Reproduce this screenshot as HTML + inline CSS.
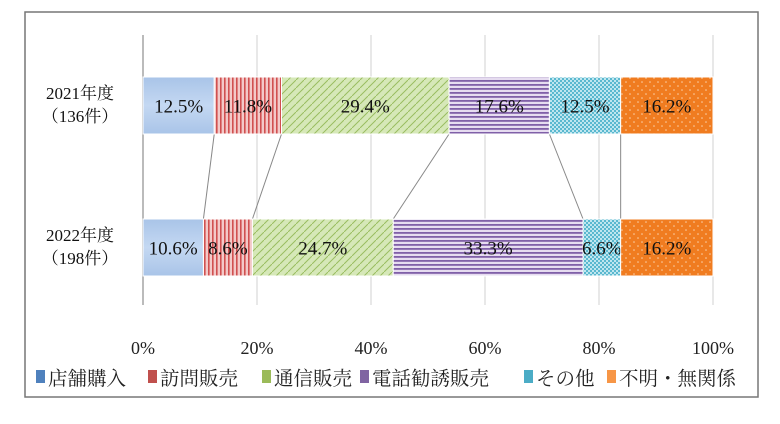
<!DOCTYPE html>
<html><head><meta charset="utf-8"><style>
body{margin:0;background:#fff;width:780px;height:419px;overflow:hidden}
svg text{font-family:"Liberation Serif","Noto Serif CJK SC",serif}
</style></head><body>
<svg id="c" width="780" height="419">
<defs>
<linearGradient id="gb" x1="0" y1="0" x2="0" y2="1"><stop offset="0" stop-color="#a9c4e8"/><stop offset="0.5" stop-color="#c4d8f2"/><stop offset="1" stop-color="#a9c4e8"/></linearGradient>
<pattern id="pr" width="4" height="4" patternUnits="userSpaceOnUse"><rect width="4" height="4" fill="#f3c9c8"/><rect width="1.6" height="4" fill="#d05050"/></pattern>
<pattern id="pg" width="8" height="8" patternUnits="userSpaceOnUse"><rect width="8" height="8" fill="#d6e8b8"/><path d="M0 8L8 0" stroke="#9abd60" stroke-width="1"/></pattern>
<pattern id="pp" width="4" height="4" patternUnits="userSpaceOnUse"><rect width="4" height="4" fill="#e6dcf0"/><rect width="4" height="1.8" fill="#8060a8"/></pattern>
<pattern id="pc" width="4" height="4" patternUnits="userSpaceOnUse"><rect width="4" height="4" fill="#bfe6ef"/><rect width="2" height="2" fill="#5ab8cf"/><rect x="2" y="2" width="2" height="2" fill="#5ab8cf"/></pattern>
<pattern id="po" width="8" height="8" patternUnits="userSpaceOnUse"><rect width="8" height="8" fill="#f07c20"/><circle cx="2" cy="2" r="0.8" fill="#fbd0a8"/><circle cx="6" cy="6" r="0.8" fill="#fbd0a8"/></pattern>
</defs>
<rect x="25" y="12" width="733" height="385" fill="#fff" stroke="#777" stroke-width="1.5"/>
<g id="grid"></g><g id="conn"></g><g id="bars"></g><g id="ticks"></g><g id="legend"></g>
</svg>
<script>
const categories=["2021年度","2022年度"];
const counts=["（136件）","（198件）"];
const seriesNames=["店舗購入","訪問販売","通信販売","電話勧誘販売","その他","不明・無関係"];
const values2021=[12.5,11.8,29.4,17.6,12.5,16.2];
const values2022=[10.6,8.6,24.7,33.3,6.6,16.2];
const tickValues=[0,20,40,60,80,100];
const fills=["url(#gb)","url(#pr)","url(#pg)","url(#pp)","url(#pc)","url(#po)"];
const legendColors=["#4f81bd","#c0504d","#9bbb59","#8064a2","#4bacc6","#f79646"];
const NS="http://www.w3.org/2000/svg";
const X0=143,X1=713;
const xs=v=>X0+(X1-X0)*v/100;
const rowY=[77,219],barH=57;
function mk(t,a,p){const e=document.createElementNS(NS,t);for(const k in a)e.setAttribute(k,a[k]);p.appendChild(e);return e;}
const grid=document.getElementById('grid');
tickValues.forEach(t=>{
 const l=mk('line',{x1:xs(t),x2:xs(t),y1:35,y2:305,stroke:t===0?'#bbb':'#d9d9d9','stroke-width':t===0?2:1.2},grid);
 
 
 const tx=mk('text',{x:xs(t),y:354,'text-anchor':'middle','font-size':18,fill:'#222'},document.getElementById('ticks'));
 tx.textContent=t+'%';
 
 
});
const data=[values2021,values2022];
const bars=document.getElementById('bars');
const ends=[[],[]];
data.forEach((vals,r)=>{
 let c=0;
 vals.forEach((v,i)=>{
  const xa=xs(c),xb=xs(c+v);
  const b=mk('rect',{x:xa,y:rowY[r],width:xb-xa,height:barH,fill:fills[i],stroke:'#fff','stroke-width':1},bars);
  
  
  const t=mk('text',{x:(xa+xb)/2,y:rowY[r]+barH/2+7,'text-anchor':'middle','font-size':19,fill:'#111'},bars);
  t.textContent=v.toFixed(1)+'%';
  
  
  c+=v;ends[r].push(c);
 });
 const l1=mk('text',{x:80,y:rowY[r]+22,'text-anchor':'middle','font-size':17,fill:'#111'},bars);
 l1.textContent=categories[r];
 
 
 const l2=mk('text',{x:80,y:rowY[r]+45,'text-anchor':'middle','font-size':17,fill:'#111'},bars);
 l2.textContent=counts[r];
 
 
});
const conn=document.getElementById('conn');
for(let i=0;i<5;i++){
 const l=mk('line',{x1:xs(ends[0][i]),y1:rowY[0]+barH,x2:xs(ends[1][i]),y2:rowY[1],stroke:'#888','stroke-width':1},conn);
 
 
}
const lg=document.getElementById('legend');
const lpos=[36,148,262,360,524,607];
seriesNames.forEach((n,i)=>{
 const lx=lpos[i];
 const s=mk('rect',{x:lx,y:370,width:9,height:13,fill:legendColors[i]},lg);
 
 
 const t=mk('text',{x:lx+12,y:385,'font-size':19.5,fill:'#222','font-family':'"Liberation Sans","Noto Sans CJK JP",sans-serif'},lg);
 t.textContent=n;
 
 
});
</script>
</body></html>
